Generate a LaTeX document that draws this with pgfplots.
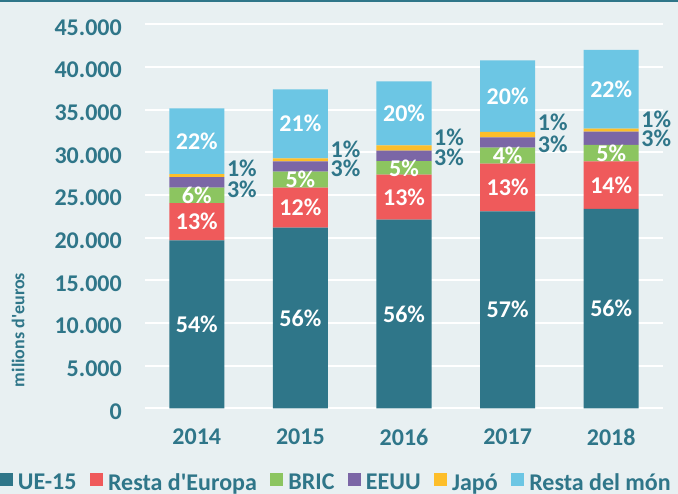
\documentclass[border=0pt]{standalone}
\usepackage{fontspec}
\setmainfont{Carlito}
\usepackage{pgfplots}
\pgfplotsset{compat=1.18}

\definecolor{bg}{HTML}{E8F0F2}
\definecolor{txt}{HTML}{2F7689}
\definecolor{ue}{HTML}{2F7689}
\definecolor{reu}{HTML}{EF5A5B}
\definecolor{bric}{HTML}{8CC560}
\definecolor{eeuu}{HTML}{7B66A6}
\definecolor{japo}{HTML}{FDBE2A}
\definecolor{resta}{HTML}{6CC6E4}

\tikzset{
  sidelbl/.style={font=\fontsize{24}{28}\selectfont\bfseries, text=txt, inner sep=0pt, anchor=west},
}
\pgfplotsset{
  inbar/.style={
    nodes near coords, point meta=explicit symbolic,
    every node near coord/.append style={font=\fontsize{24}{28}\selectfont\bfseries,
        text=white, inner sep=0pt, anchor=center},
  },
}

\begin{document}
\begin{tikzpicture}
\path[use as bounding box] (0pt,0pt) rectangle (678pt,-494pt);
% background and top rule
\fill[bg] (0pt,0pt) rectangle (678pt,-494pt);
\fill[txt] (0pt,0pt) rectangle (678pt,-2pt);
\begin{axis}[
    at={(145pt,-408.3pt)}, anchor=south west,
    scale only axis, width=518pt, height=384pt,
    ybar stacked, bar width=55pt,
    xmin=-0.5, xmax=4.5, ymin=0, ymax=45000,
    xtick={0,1,2,3,4},
    xticklabels={2014,2015,2016,2017,2018},
    ytick={0,5000,...,45000},
    scaled y ticks=false,
    ymajorgrids,
    major grid style={white, line width=2.2pt},
    axis line style={draw=none},
    major tick style={draw=none},
    clip=false,
    /pgf/number format/1000 sep={.},
    /pgf/number format/assume math mode=true,
    ticklabel style={font=\fontsize{24}{28}\selectfont\bfseries, text=txt},
    yticklabel style={inner sep=0pt, xshift=-23pt, yshift=-3pt},
    xticklabel style={inner sep=0pt, yshift=-20.7pt},
    ylabel={milions d\textquotesingle euros},
    ylabel style={at={(axis description cs:-0.245,0.204)}, anchor=center,
        font=\fontsize{18}{20}\selectfont\bfseries, text=txt},
    legend columns=-1,
    legend style={at={(axis description cs:-0.28,-0.193)}, anchor=west,
        draw=none, fill=none, inner sep=0pt, outer sep=0pt,
        font=\fontsize{24}{28}\selectfont\bfseries, text=txt,
        nodes={inner sep=0pt},
        /tikz/every odd column/.append style={column sep=5pt},
        /tikz/every even column/.append style={column sep=13.5pt}},
    legend image code/.code={\fill[#1] (0pt,-3pt) rectangle (13pt,10pt);},
]
\addplot[fill=ue, draw=none, inbar] coordinates {
  (0,19670) [54\%] (1,21160) [56\%] (2,22100) [56\%] (3,23090) [57\%] (4,23360) [56\%]};
\addlegendentry{UE-15}
\addplot[fill=reu, draw=none, inbar] coordinates {
  (0,4370) [13\%] (1,4690) [12\%] (2,5280) [13\%] (3,5580) [13\%] (4,5590) [14\%]};
\addlegendentry{Resta d\textquotesingle Europa}
\addplot[fill=bric, draw=none, inbar] coordinates {
  (0,1830) [6\%] (1,1880) [5\%] (2,1600) [5\%] (3,1870) [4\%] (4,1910) [5\%]};
\addlegendentry{BRIC}
\addplot[fill=eeuu, draw=none] coordinates {(0,1210) (1,1220) (2,1210) (3,1220) (4,1560)};
\addlegendentry{EEUU}
\addplot[fill=japo, draw=none] coordinates {(0,350) (1,350) (2,630) (3,620) (4,350)};
\addlegendentry{Japó}
\addplot[fill=resta, draw=none, inbar] coordinates {
  (0,7720) [22\%] (1,8080) [21\%] (2,7500) [20\%] (3,8400) [20\%] (4,9220) [22\%]};
\addlegendentry{Resta del món}

% labels beside the bars
\node[sidelbl] at (axis cs:0.29,28160) {1\%};
\node[sidelbl] at (axis cs:0.29,25700) {3\%};
\node[sidelbl] at (axis cs:1.29,30390) {1\%};
\node[sidelbl] at (axis cs:1.29,28160) {3\%};
\node[sidelbl] at (axis cs:2.29,31790) {1\%};
\node[sidelbl] at (axis cs:2.29,29450) {3\%};
\node[sidelbl] at (axis cs:3.29,33550) {1\%};
\node[sidelbl] at (axis cs:3.29,30970) {3\%};
\node[sidelbl] at (axis cs:4.29,33900) {1\%};
\node[sidelbl] at (axis cs:4.29,31670) {3\%};
\end{axis}
\end{tikzpicture}
\end{document}
